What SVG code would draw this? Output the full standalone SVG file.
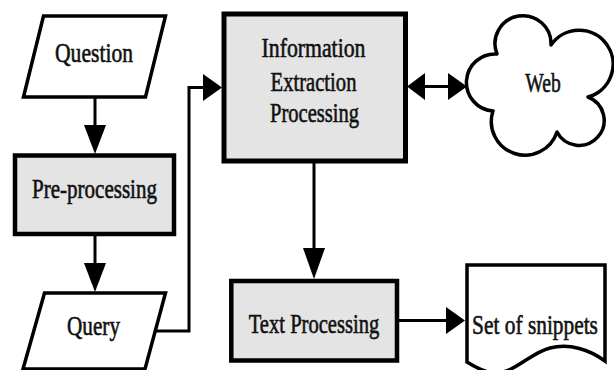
<svg xmlns="http://www.w3.org/2000/svg" width="614" height="370" viewBox="0 0 614 370">
<style>
.bg{fill:#ffffff}
.io{fill:#ffffff;stroke:#000;stroke-width:3.5;stroke-linejoin:miter}
.box{fill:#e4e4e4;stroke:#000;stroke-width:4.5}
.cloud{fill:#ffffff;stroke:#000;stroke-width:3.5;stroke-linejoin:round}
.doc{fill:#ffffff;stroke:#000;stroke-width:3.5}
.ln{fill:none;stroke:#000;stroke-width:3}
.ah{fill:#000;stroke:none}
.t{font-family:"Liberation Serif","Times New Roman",serif;font-size:27px;fill:#111;stroke:#111;stroke-width:0.6;text-anchor:middle}
</style>
<rect class="bg" x="0" y="0" width="614" height="370"/>
<g id="question">
<polygon class="io" points="43.5,16 165.5,16 145.5,97 23.5,97"/>
<text class="t" transform="translate(94,61.5) scale(0.8,1)">Question</text>
</g>
<g id="preprocessing">
<rect class="box" x="15" y="155.5" width="159" height="78.5"/>
<text class="t" transform="translate(94.5,198) scale(0.779,1)">Pre-processing</text>
</g>
<g id="query">
<polygon class="io" points="44.5,293 165.5,293 145,369 23,369"/>
<text class="t" transform="translate(93.5,335) scale(0.785,1)">Query</text>
</g>
<g id="info">
<rect class="box" x="224" y="14" width="181.5" height="147" style="stroke-width:5"/>
<text class="t" transform="translate(313.5,57) scale(0.806,1)">Information</text>
<text class="t" transform="translate(313.5,90.5) scale(0.764,1)">Extraction</text>
<text class="t" transform="translate(314.5,121.5) scale(0.761,1)">Processing</text>
</g>
<g id="web">
<path class="cloud" d="M497,54 A28,28 0 1 1 551,45 A34,34 0 1 1 588,97 A25,25 0 1 1 557,132 A33.6,33.6 0 0 1 493,111 A28.5,28.5 0 0 1 497,54 Z"/>
<text class="t" transform="translate(543,92) scale(0.725,1)">Web</text>
</g>
<g id="textprocessing">
<rect class="box" x="231.3" y="281" width="165.7" height="79.5"/>
<text class="t" transform="translate(314,332.5) scale(0.762,1)">Text Processing</text>
</g>
<g id="snippets">
<path class="doc" d="M467,265 H605 V361 C590,350 570,343 550,348 C530,353 515,373 495,373 C485,373 475,367 467,362 Z"/>
<text class="t" transform="translate(535,334) scale(0.792,1)">Set of snippets</text>
</g>
<g id="connectors">
<line class="ln" x1="95" y1="97" x2="95" y2="128"/>
<polygon class="ah" points="84,125 106,125 95,154"/>
<line class="ln" x1="95" y1="234" x2="95" y2="266"/>
<polygon class="ah" points="84,263 106,263 95,292"/>
<polyline class="ln" points="156,331 189,331 189,87.5 206,87.5"/>
<polygon class="ah" points="203,74 203,101 222,87.5"/>
<line class="ln" x1="423" y1="86.5" x2="450" y2="86.5"/>
<polygon class="ah" points="425,73 425,100 407,86.5"/>
<polygon class="ah" points="448,73 448,100 467,86.5"/>
<line class="ln" x1="314" y1="161" x2="314" y2="250"/>
<polygon class="ah" points="303,248 325,248 314,279"/>
<line class="ln" x1="397" y1="320.5" x2="448" y2="320.5"/>
<polygon class="ah" points="446,307 446,334 465,320.5"/>
</g>
</svg>
